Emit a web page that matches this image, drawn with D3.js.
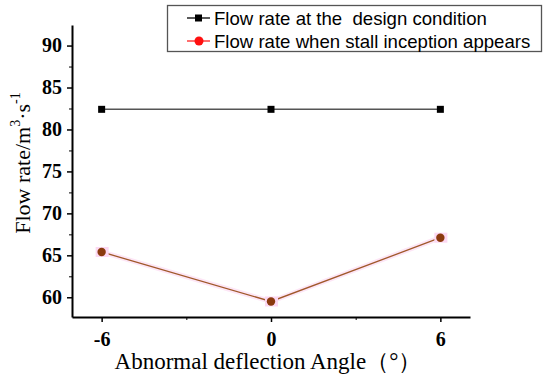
<!DOCTYPE html>
<html><head><meta charset="utf-8">
<script src="https://cdn.jsdelivr.net/npm/d3@7"></script>
<style>body{margin:0;background:#fff}
.tick text{font-family:"Liberation Serif","Times New Roman",serif !important;font-weight:bold;font-size:20px}
</style>
</head><body>
<svg id="c" width="550" height="380"></svg>
<script>
const angles = [-6, 0, 6];
const designFlow = [82.4, 82.4, 82.4];
const stallFlow = [65.4, 59.5, 67.1];
const yTicks = [60, 65, 70, 75, 80, 85, 90];
const xTicks = [-6, 0, 6];
const seriesNames = ["Flow rate at the  design condition", "Flow rate when stall inception appears"];

const svg = d3.select("#c");
const L = 72, R = 470, T = 25, B = 317;
const x = d3.scaleLinear().domain([-7.05, 7.05]).range([L, R]);
const y = d3.scaleLinear().domain([57.65, 92.45]).range([B, T]);

// axes
const xAxis = svg.append("g").attr("transform", `translate(0,${B})`)
  .call(d3.axisBottom(x).tickValues(xTicks).tickFormat(d => String(d)).tickSize(5).tickSizeOuter(0));
const yAxis = svg.append("g").attr("transform", `translate(${L},0)`)
  .call(d3.axisLeft(y).tickValues(yTicks).tickFormat(d => String(d)).tickSize(5).tickSizeOuter(0));
// minor ticks
svg.append("g").attr("transform", `translate(0,${B})`)
  .call(d3.axisBottom(x).tickValues([-3, 3]).tickFormat("").tickSize(3).tickSizeOuter(0))
  .select(".domain").remove();
svg.append("g").attr("transform", `translate(${L},0)`)
  .call(d3.axisLeft(y).tickValues([62.5,67.5,72.5,77.5,82.5,87.5,92.5].filter(v=>v>=57.65&&v<=92.45)).tickFormat("").tickSize(3).tickSizeOuter(0))
  .select(".domain").remove();
[xAxis, yAxis].forEach(g => {
  g.attr("font-family", null).attr("font-size", null);
  g.select(".domain").attr("stroke", "#000").attr("stroke-width", 2);
  g.selectAll(".tick line").attr("stroke", "#000").attr("stroke-width", 1.5);
  g.selectAll(".tick text").attr("fill", "#000");
});
xAxis.selectAll(".tick text").attr("dy", "1.05em");
yAxis.selectAll(".tick text").attr("dx", "-2px");

// design series
const line = d3.line().x((d,i) => x(angles[i])).y(d => y(d));
svg.append("path").datum(designFlow).attr("d", line).attr("fill", "none").attr("stroke", "#555").attr("stroke-width", 1.5);
svg.selectAll(".sq").data(designFlow).enter().append("rect")
  .attr("x", (d,i) => x(angles[i]) - 3.5).attr("y", d => y(d) - 3.5)
  .attr("width", 7).attr("height", 7).attr("fill", "#000");

// stall series
svg.append("path").datum(stallFlow).attr("d", line).attr("fill", "none").attr("stroke", "#fde6f6").attr("stroke-width", 5);
svg.append("path").datum(stallFlow).attr("d", line).attr("fill", "none").attr("stroke", "#a0582a").attr("stroke-width", 1.3);
svg.selectAll(".halo").data(stallFlow).enter().append("rect")
  .attr("x", (d,i) => x(angles[i]) - 6).attr("y", d => y(d) - 5)
  .attr("width", 13).attr("height", 10).attr("fill", "#fcd8f2");
svg.selectAll(".ci").data(stallFlow).enter().append("circle")
  .attr("cx", (d,i) => x(angles[i])).attr("cy", d => y(d)).attr("r", 4.2)
  .attr("fill", "#8b3a0e");

// legend
const lg = svg.append("g");
lg.append("rect").attr("x", 167.5).attr("y", 5.5).attr("width", 374).attr("height", 46)
  .attr("fill", "#fff").attr("stroke", "#555").attr("stroke-width", 1.3);
const lgColors = ["#000", "#ff2020"];
seriesNames.forEach((name, i) => {
  const cy = 18 + i * 23;
  lg.append("line").attr("x1", 187).attr("x2", 210).attr("y1", cy).attr("y2", cy)
    .attr("stroke", lgColors[i]).attr("stroke-width", 1.3);
  if (i === 0) lg.append("rect").attr("x", 195).attr("y", cy - 3.5).attr("width", 7).attr("height", 7).attr("fill", "#000");
  else lg.append("circle").attr("cx", 199).attr("cy", cy).attr("r", 4.5).attr("fill", "#ff1010");
  lg.append("text").attr("x", 214).attr("y", cy + 6.5).text(name)
    .style("white-space", "pre")
    .attr("font-family", "Liberation Sans, Arial, sans-serif").attr("font-size", 18.6).attr("fill", "#000");
});

// axis titles
const yt = svg.append("text").attr("transform", "translate(30,163) rotate(-90)")
  .attr("text-anchor", "middle").attr("font-family", "Liberation Serif, Times New Roman, serif")
  .attr("font-size", 22).attr("fill", "#000");
yt.append("tspan").text("Flow rate/m");
yt.append("tspan").attr("dy", -10).attr("font-size", 14).text("3");
yt.append("tspan").attr("dy", 10).text("·s");
yt.append("tspan").attr("dy", -10).attr("font-size", 14).text("-1");

svg.append("text").attr("x", 268).attr("y", 369).attr("text-anchor", "middle")
  .attr("font-family", "Liberation Serif, Times New Roman, serif").attr("font-size", 23).attr("fill", "#000")
  .text("Abnormal deflection Angle（°）");
</script>
</body></html>
